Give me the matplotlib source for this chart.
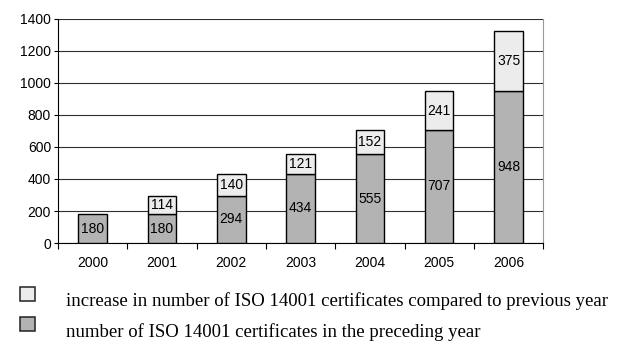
import matplotlib
matplotlib.use("Agg")
import matplotlib.pyplot as plt
from matplotlib.patches import Rectangle
import numpy as np

years = ["2000", "2001", "2002", "2003", "2004", "2005", "2006"]
preceding = [180, 180, 294, 434, 555, 707, 948]
increase = [0, 114, 140, 121, 152, 241, 375]
yticks = [0, 200, 400, 600, 800, 1000, 1200, 1400]

label_increase = "increase in number of ISO 14001 certificates compared to previous year"
label_preceding = "number of ISO 14001 certificates in the preceding year"

c_prec = "#b3b3b3"
c_inc = "#ececec"

fig = plt.figure(figsize=(6.28, 3.47), dpi=100)
ax = fig.add_axes([0.0924, 0.2997, 0.7726, 0.6456])

x = np.arange(len(years))
w = 0.41
ax.bar(x, preceding, width=w, color=c_prec, edgecolor="black", linewidth=1.0, zorder=3)
inc_x = [xi for xi, v in zip(x, increase) if v > 0]
inc_b = [p for p, v in zip(preceding, increase) if v > 0]
inc_v = [v for v in increase if v > 0]
ax.bar(inc_x, inc_v, bottom=inc_b, width=w, color=c_inc, edgecolor="black", linewidth=1.0, zorder=3)

sans = ["Liberation Sans", "DejaVu Sans"]
for xi, p in zip(x, preceding):
    ax.text(xi, p / 2, str(p), ha="center", va="center", fontsize=10, family=sans, zorder=4)
for xi, b, v in zip(inc_x, inc_b, inc_v):
    ax.text(xi, b + v / 2, str(v), ha="center", va="center", fontsize=10, family=sans, zorder=4)

ax.set_xlim(-0.5, len(years) - 0.5)
ax.set_ylim(0, 1400)
ax.set_yticks(yticks)
ax.set_yticklabels([str(t) for t in yticks], fontsize=10, family=sans)
ax.yaxis.grid(True, color="#303030", linewidth=0.8, zorder=0)
ax.tick_params(axis="y", length=3, width=0.8, pad=2)

# category labels centred, ticks on category boundaries
ax.set_xticks(x)
ax.set_xticklabels(years, fontsize=10, family=sans)
ax.tick_params(axis="x", length=0, pad=9)
ax.set_xticks(np.arange(-0.5, len(years)), minor=True)
ax.tick_params(axis="x", which="minor", length=4, width=0.8)

ax.spines["top"].set_visible(False)
ax.spines["right"].set_color("#999999")
ax.spines["left"].set_color("black")
ax.spines["bottom"].set_color("black")
ax.set_axisbelow(True)

# legend below the chart
fw, fh = 628, 347
def fig_rect(px, py, pw, ph, color):
    fig.patches.append(Rectangle((px / fw, 1 - (py + ph) / fh), pw / fw, ph / fh,
                                 transform=fig.transFigure, facecolor=color,
                                 edgecolor="#222222", linewidth=1.1))

fig_rect(20, 287, 15, 14, c_inc)
fig_rect(20, 317, 15, 14, c_prec)
serif = ["Liberation Serif", "DejaVu Serif"]
fig.text(66 / fw, 1 - 306 / fh, label_increase, fontsize=13.5, family=serif, va="baseline")
fig.text(66 / fw, 1 - 337 / fh, label_preceding, fontsize=13.5, family=serif, va="baseline")

fig.savefig("out.png", dpi=100)
